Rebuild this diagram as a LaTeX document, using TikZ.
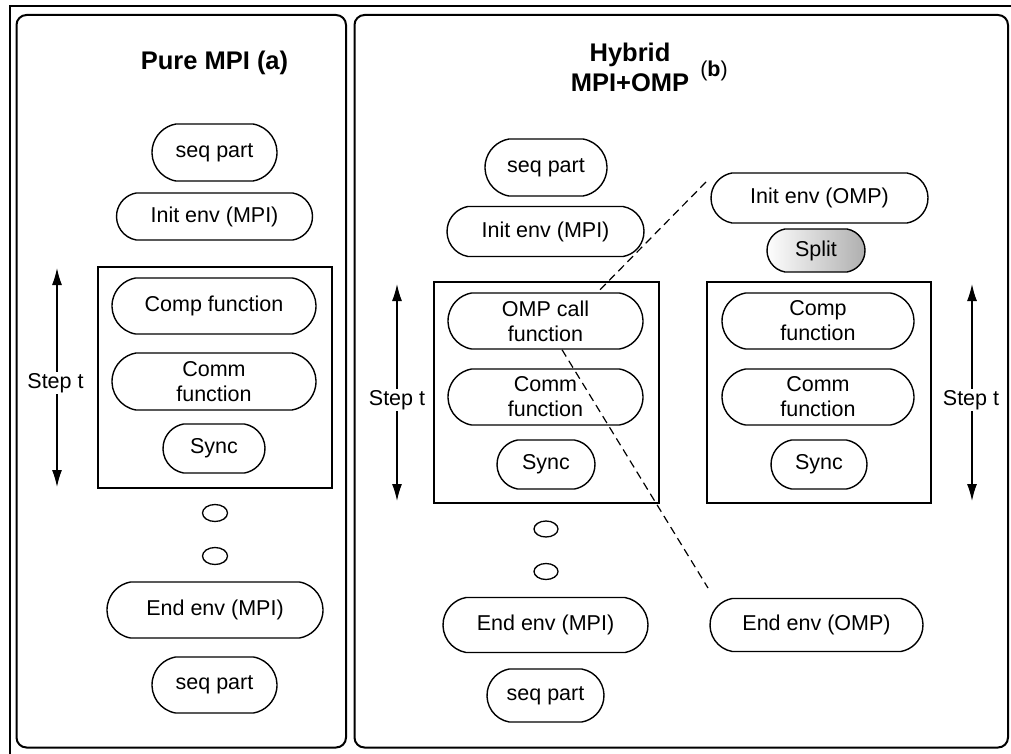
\documentclass[tikz,border=0pt]{standalone}
\usepackage{fontspec}
\setmainfont{Liberation Sans}
\usetikzlibrary{arrows.meta,shapes.geometric,shapes.misc}
\begin{document}
\begin{tikzpicture}[x=1pt,y=-1pt,
  pill/.style={draw, rounded rectangle, rounded rectangle arc length=160, line width=1.4pt, inner sep=0pt,
    align=center, font=\fontsize{21.5}{25}\selectfont},
  loopbox/.style={draw, line width=1.4pt, inner sep=0pt, minimum width=#1, minimum height=221pt},
  panel/.style={draw, line width=2pt, rounded corners=10pt},
  dotnode/.style={draw, ellipse, line width=1.3pt, inner sep=0pt, minimum width=25pt, minimum height=17pt},
  steparrow/.style={line width=1.3pt, {Latex[length=17pt,width=10pt]}-{Latex[length=17pt,width=10pt]}},
  steplabel/.style={fill=white, inner sep=1pt, font=\fontsize{21.5}{25}\selectfont},
  titlefont/.style={font=\fontsize{25.5}{30}\selectfont\bfseries, align=center},
  dashline/.style={line width=1.2pt, dash pattern=on 8pt off 5pt}
]
\useasboundingbox (0,0) rectangle (1011,754);
% outer frame
\draw[line width=2pt] (9.5,770) -- (9.5,6) -- (1030,6);
% panels
\draw[panel] (16.5,15) rectangle (346,747.5);
\draw[panel] (354.5,15) rectangle (1008,747.5);

% ---------- panel (a)
\node[titlefont] (a-title) at (214.5,63) {Pure MPI (a)};
\node[pill, minimum width=125pt, minimum height=57pt] (a-seq1) at (214.5,152.5) {seq part};
\node[pill, minimum width=196pt, minimum height=47pt] (a-init) at (214.5,216.5) {Init env (MPI)};
\node[loopbox=234pt] (a-loop) at (215,377.5) {};
\node[pill, minimum width=204pt, minimum height=56pt] (a-comp) at (214,306) {Comp function};
\node[pill, minimum width=204pt, minimum height=57pt] (a-comm) at (214,381.5) {Comm\\function};
\node[pill, minimum width=102pt, minimum height=49pt] (a-sync) at (214,448.5) {Sync};
\node[dotnode] (a-dot1) at (215,513) {};
\node[dotnode] (a-dot2) at (215,556) {};
\node[pill, minimum width=216pt, minimum height=56pt] (a-end) at (215,610) {End env (MPI)};
\node[pill, minimum width=125pt, minimum height=56pt] (a-seq2) at (214.5,685) {seq part};
\coordinate (a-top) at (57,268);
\coordinate (a-bot) at (57,487);
\draw[steparrow] (a-top) -- (a-bot);
\node[steplabel] (a-step) at (55.5,383) {Step t};

% ---------- panel (b)
\node[titlefont] (b-title) at (630,67) {Hybrid\\MPI+OMP};
\node[font=\fontsize{21.5}{25}\selectfont, inner sep=0pt] (b-tag) at (714,71) {(\textbf{b})};
\node[pill, minimum width=122pt, minimum height=57pt] (b-seq1) at (546,167.5) {seq part};
\node[pill, minimum width=197pt, minimum height=50pt] (b-init) at (545.5,231.5) {Init env (MPI)};
\node[loopbox=225pt] (b-loop) at (546.5,392.5) {};
\node[pill, minimum width=195pt, minimum height=56pt] (b-omp) at (545.5,321) {OMP call\\function};
\node[pill, minimum width=195pt, minimum height=56pt] (b-comm) at (545.5,397) {Comm\\function};
\node[pill, minimum width=98pt, minimum height=49pt] (b-sync) at (546,464.5) {Sync};
\node[dotnode, minimum width=24pt, minimum height=16pt] (b-dot1) at (546,529) {};
\node[dotnode, minimum width=24pt, minimum height=16pt] (b-dot2) at (546,571.5) {};
\node[pill, minimum width=205pt, minimum height=55pt] (b-end) at (545.5,625) {End env (MPI)};
\node[pill, minimum width=117pt, minimum height=53pt] (b-seq2) at (545.5,695.5) {seq part};
\coordinate (b-top) at (397,284);
\coordinate (b-bot) at (397,501);
\draw[steparrow] (b-top) -- (b-bot);
\node[steplabel] (b-step) at (397,400) {Step t};

% ---------- OMP detail
\node[pill, minimum width=217pt, minimum height=50pt] (c-init) at (819.5,198) {Init env (OMP)};
\node[pill, minimum width=98pt, minimum height=43pt, left color=white, right color=black!32] (c-split) at (816,250.5) {Split};
\node[loopbox=224pt] (c-loop) at (819,392.5) {};
\node[pill, minimum width=192pt, minimum height=56pt] (c-comp) at (818,321) {Comp\\function};
\node[pill, minimum width=192pt, minimum height=56pt] (c-comm) at (818,397) {Comm\\function};
\node[pill, minimum width=96pt, minimum height=49pt] (c-sync) at (819,464.5) {Sync};
\node[pill, minimum width=213pt, minimum height=53pt] (c-end) at (816.5,625) {End env (OMP)};
\coordinate (c-top) at (972,284);
\coordinate (c-bot) at (972,501);
\draw[steparrow] (c-top) -- (c-bot);
\node[steplabel] (c-step) at (971,400) {Step t};

% ---------- zoom dashed lines
\coordinate (z-top) at (706,182);
\coordinate (z-bot) at (708,588);
\draw[dashline] (z-top) -- ([xshift=52pt]b-omp.north);
\draw[dashline] ([xshift=16.5pt]b-omp.south) -- (z-bot);
\end{tikzpicture}
\end{document}
